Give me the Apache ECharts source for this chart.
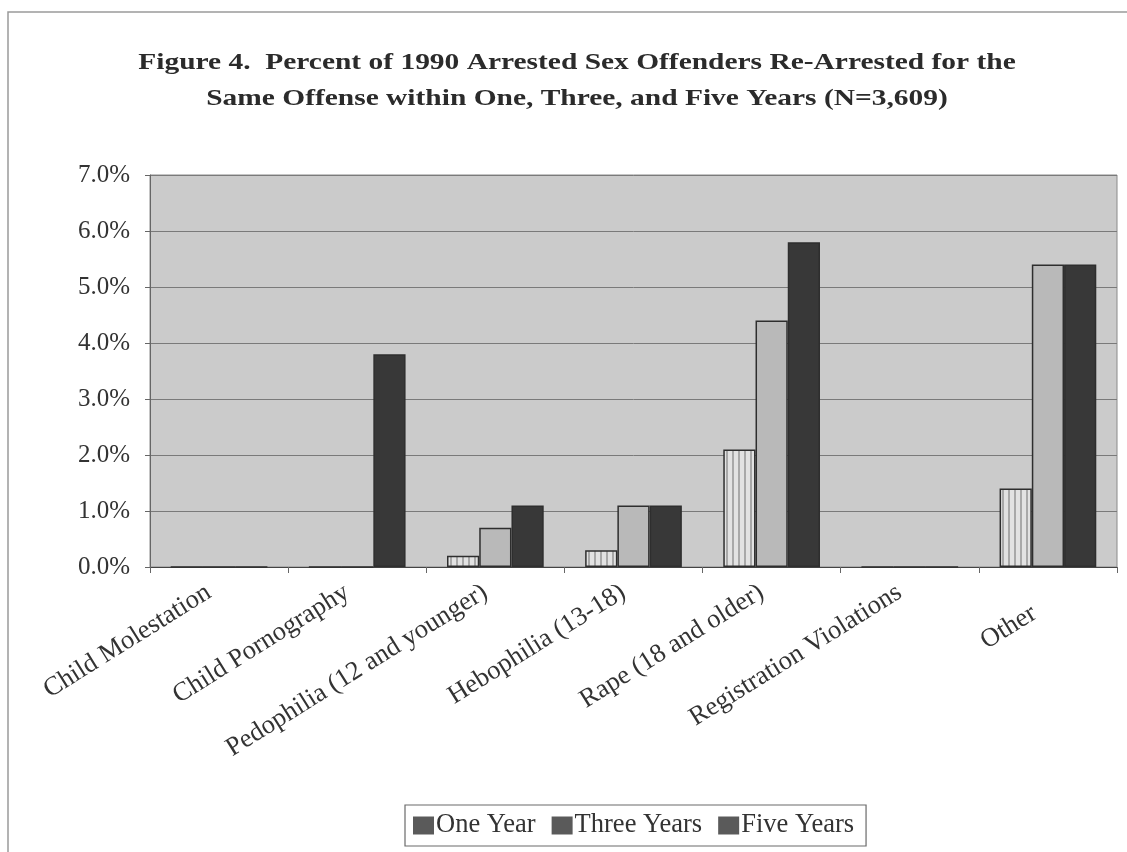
<!DOCTYPE html>
<html>
<head>
<meta charset="utf-8">
<script src="https://cdn.jsdelivr.net/npm/echarts@6/dist/echarts.min.js"></script>
<style>
  html, body { margin: 0; padding: 0; background: #ffffff; }
  #chart { width: 1127px; height: 852px; }
</style>
</head>
<body>
<div id="chart"></div>
<script>
// Offense categories along the x axis
const categories = [
  'Child Molestation',
  'Child Pornography',
  'Pedophilia (12 and younger)',
  'Hebophilia (13-18)',
  'Rape (18 and older)',
  'Registration Violations',
  'Other'
];

// Percent re-arrested for the same offense
const oneYear    = [0, 0, 0.2, 0.3, 2.1, 0, 1.4];
const threeYears = [0, 0, 0.7, 1.1, 4.4, 0, 5.4];
const fiveYears  = [0, 3.8, 1.1, 1.1, 5.8, 0, 5.4];

const seriesNames = ['One Year', 'Three Years', 'Five Years'];

const titleLines = [
  'Figure 4.  Percent of 1990 Arrested Sex Offenders Re-Arrested for the',
  'Same Offense within One, Three, and Five Years (N=3,609)'
];

const serif = "'Liberation Serif', 'DejaVu Serif', serif";

// Vertical-stripe fill for the one-year bars
function stripePattern() {
  const c = document.createElement('canvas');
  c.width = 6; c.height = 6;
  const g = c.getContext('2d');
  g.fillStyle = '#e2e2e2';
  g.fillRect(0, 0, 6, 6);
  g.fillStyle = '#a8a8a8';
  g.fillRect(0, 0, 2, 6);
  return c;
}

const chart = echarts.init(document.getElementById('chart'), null, { renderer: 'canvas' });

const barBorder = { borderColor: '#2e2e2e', borderWidth: 1.5 };

// Title lines are drawn as wide bold serif text
const titleGraphics = titleLines.map((line, i) => ({
  type: 'text',
  x: 577,
  y: 63 + i * 36,
  scaleX: 1.28,
  scaleY: 1,
  silent: true,
  style: {
    text: line,
    fontFamily: serif,
    fontWeight: 'bold',
    fontSize: 23,
    fill: '#2b2b2b',
    align: 'center',
    verticalAlign: 'middle'
  }
}));

const labelFont = { fontFamily: serif, fontSize: 26.5, color: '#333333' };

chart.setOption({
  backgroundColor: '#ffffff',
  animation: false,
  graphic: [
    {
      type: 'rect',
      shape: { x: 8, y: 12, width: 1130, height: 850 },
      style: { fill: 'none', stroke: '#9a9a9a', lineWidth: 1.5 },
      silent: true,
      z: -10
    }
  ].concat(titleGraphics),
  legend: {
    data: seriesNames.map(n => ({ name: n, itemStyle: { color: '#5a5a5a', borderWidth: 0 } })),
    left: 405,
    top: 805,
    icon: 'rect',
    itemWidth: 21,
    itemHeight: 18,
    itemGap: 16,
    padding: [7, 12, 7, 8],
    borderColor: '#6a6a6a',
    borderWidth: 1.2,
    backgroundColor: '#ffffff',
    textStyle: { fontFamily: serif, fontSize: 26.5, color: '#333333', padding: [0, 0, 0, -3] }
  },
  grid: {
    left: 150,
    right: 10,
    top: 175,
    bottom: 285,
    show: true,
    backgroundColor: '#cbcbcb',
    borderColor: '#8a8a8a',
    borderWidth: 1
  },
  xAxis: {
    type: 'category',
    data: categories,
    axisLine: { lineStyle: { color: '#444444', width: 1.2 } },
    axisTick: { show: true, length: 6, lineStyle: { color: '#666666' } },
    axisLabel: Object.assign({
      interval: 0,
      rotate: 32,
      margin: 17,
      padding: [0, 12, 0, 0],
      // the short last label sits a little lower and further in
      formatter: v => (v.length < 8 ? '{low|' + v + '}' : v),
      rich: { low: Object.assign({ padding: [32, 14, 0, 0] }, labelFont) }
    }, labelFont)
  },
  yAxis: {
    type: 'value',
    min: 0,
    max: 7,
    interval: 1,
    axisLine: { show: true, lineStyle: { color: '#666666' } },
    axisTick: { show: true, length: 5, lineStyle: { color: '#666666' } },
    axisLabel: {
      formatter: v => v.toFixed(1) + '%',
      margin: 20,
      fontFamily: serif,
      fontSize: 25,
      color: '#333333'
    },
    splitLine: { lineStyle: { color: '#7a7a7a', width: 1 } }
  },
  series: [
    {
      name: seriesNames[0],
      type: 'bar',
      data: oneYear,
      barGap: '0%',
      barCategoryGap: '30%',
      itemStyle: Object.assign({ color: { image: stripePattern(), repeat: 'repeat' } }, barBorder)
    },
    {
      name: seriesNames[1],
      type: 'bar',
      data: threeYears,
      barGap: '0%',
      barCategoryGap: '30%',
      itemStyle: Object.assign({ color: '#b9b9b9' }, barBorder)
    },
    {
      name: seriesNames[2],
      type: 'bar',
      data: fiveYears,
      barGap: '0%',
      barCategoryGap: '30%',
      itemStyle: Object.assign({ color: '#383838' }, barBorder)
    }
  ]
});
</script>
</body>
</html>
